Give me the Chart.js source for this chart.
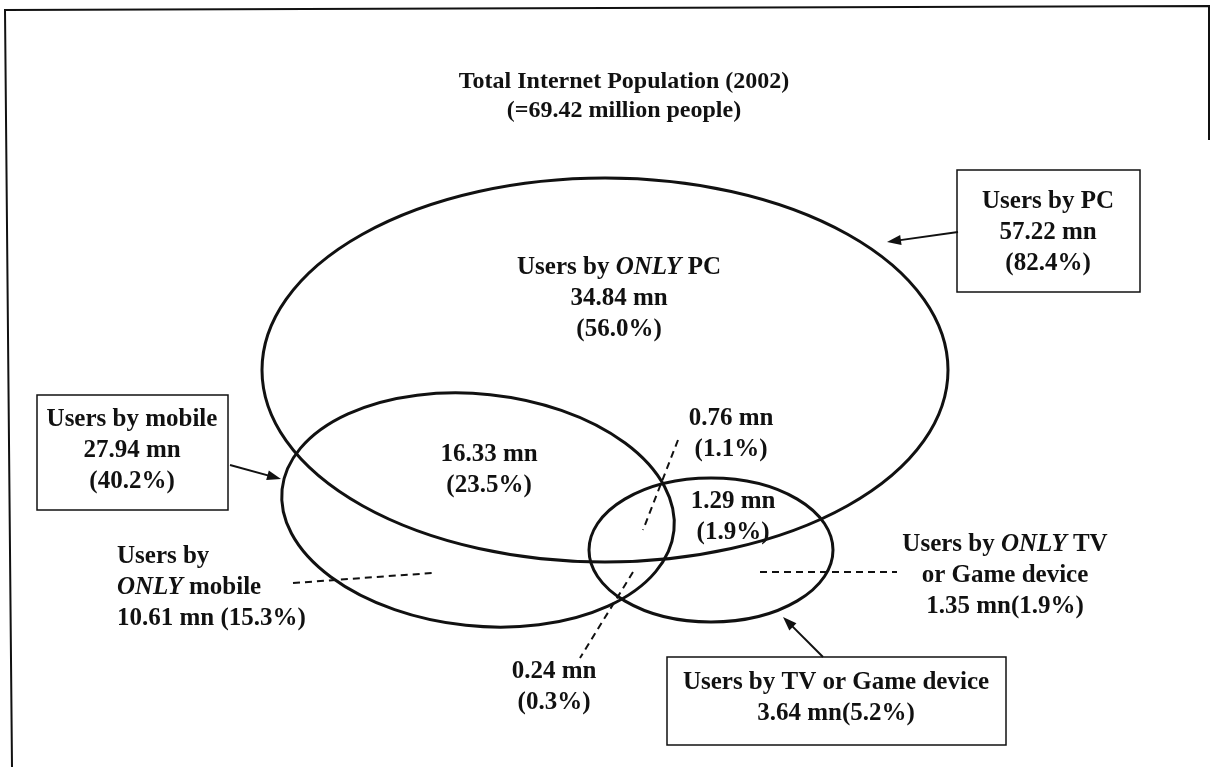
<!DOCTYPE html>
<html>
<head>
<meta charset="utf-8">
<script src="https://cdn.jsdelivr.net/npm/chart.js@4/dist/chart.umd.min.js"></script>
<style>
  html, body { margin: 0; padding: 0; background: #fff; }
  canvas { display: block; }
</style>
</head>
<body>
<canvas id="venn" width="1210" height="767"></canvas>
<script>
// --- data (million people, share of 69.42 mn total) ---
const titleLines = ['Total Internet Population (2002)', '(=69.42 million people)'];
const setNames = ['PC', 'mobile', 'TV or Game device'];
const setTotals = [57.22, 27.94, 3.64];
const setShares = [82.4, 40.2, 5.2];
const regionNames = ['ONLY PC', 'PC+mobile', 'PC+mobile+TV', 'PC+TV', 'ONLY mobile', 'mobile+TV', 'ONLY TV'];
const regionValues = [34.84, 16.33, 0.76, 1.29, 10.61, 0.24, 1.35];
const regionShares = [56.0, 23.5, 1.1, 1.9, 15.3, 0.3, 1.9];

// --- layout in chart units (x 0..1210, y 0..767 top-down) ---
const ellipseCx = [605, 478, 711];
const ellipseCy = [370, 510, 550];
const ellipseRx = [343, 197, 122];
const ellipseRy = [192, 116, 72];
const ellipseTilt = [0, 6, 0];

const mn = v => v.toFixed(2) + ' mn';
const pct = v => '(' + v.toFixed(1) + '%)';

// *word* marks italic runs
const labels = [
  { x: 1048, y: 202, align: 'center', lines: ['Users by ' + setNames[0], mn(setTotals[0]), pct(setShares[0])], box: [957, 170, 1140, 292] },
  { x: 132, y: 420, align: 'center', lines: ['Users by ' + setNames[1], mn(setTotals[1]), pct(setShares[1])], box: [37, 395, 228, 510] },
  { x: 836, y: 683, align: 'center', lines: ['Users by ' + setNames[2], mn(setTotals[2]) + pct(setShares[2])], box: [667, 657, 1006, 745] },
  { x: 619, y: 268, align: 'center', lines: ['Users by *ONLY* PC', mn(regionValues[0]), pct(regionShares[0])] },
  { x: 489, y: 455, align: 'center', lines: [mn(regionValues[1]), pct(regionShares[1])] },
  { x: 731, y: 419, align: 'center', lines: [mn(regionValues[2]), pct(regionShares[2])] },
  { x: 733, y: 502, align: 'center', lines: [mn(regionValues[3]), pct(regionShares[3])] },
  { x: 117, y: 557, align: 'left', lines: ['Users by', '*ONLY* mobile', mn(regionValues[4]) + ' ' + pct(regionShares[4])] },
  { x: 554, y: 672, align: 'center', lines: [mn(regionValues[5]), pct(regionShares[5])] },
  { x: 1005, y: 545, align: 'center', lines: ['Users by *ONLY* TV', 'or Game device', mn(regionValues[6]) + pct(regionShares[6])] }
];
const lineGap = 31;

const arrows = [[958, 232, 887, 242], [230, 465, 281, 479], [823, 657, 783, 617]];
const leaders = [[293, 583, 432, 573], [760, 572, 897, 572], [678, 440, 643, 530], [633, 572, 580, 658]];

const FONT = '"Liberation Serif", "Times New Roman", serif';
const INK = '#111';

function drawRuns(ctx, text, x, y, align, size) {
  const parts = text.split('*').map((t, i) => ({ t: t, it: i % 2 === 1 })).filter(p => p.t);
  const fontOf = p => (p.it ? 'italic bold ' : 'bold ') + size + 'px ' + FONT;
  let w = 0;
  parts.forEach(p => { ctx.font = fontOf(p); p.w = ctx.measureText(p.t).width; w += p.w; });
  let cx = align === 'center' ? x - w / 2 : x;
  ctx.textAlign = 'left';
  ctx.textBaseline = 'middle';
  parts.forEach(p => { ctx.font = fontOf(p); ctx.fillText(p.t, cx, y); cx += p.w; });
}

const vennPlugin = {
  id: 'venn',
  beforeDraw(chart) {
    const ctx = chart.ctx;
    ctx.save();
    ctx.fillStyle = '#fff';
    ctx.fillRect(0, 0, chart.width, chart.height);
    ctx.restore();
  },
  afterDraw(chart) {
    const { ctx, scales: { x, y } } = chart;
    const px = v => x.getPixelForValue(v);
    const py = v => y.getPixelForValue(v);
    ctx.save();
    ctx.strokeStyle = INK;
    ctx.fillStyle = INK;

    // outer frame (scan is cropped at the bottom)
    ctx.lineWidth = 2;
    ctx.beginPath();
    ctx.moveTo(px(12), py(767));
    ctx.lineTo(px(5), py(10));
    ctx.lineTo(px(1209), py(6));
    ctx.lineTo(px(1209), py(140));
    ctx.stroke();

    // title
    titleLines.forEach((t, i) => drawRuns(ctx, t, px(624), py(82 + i * 29), 'center', 24));

    // set ellipses
    ctx.lineWidth = 3;
    ellipseCx.forEach((c, i) => {
      const cx = px(c), cy = py(ellipseCy[i]);
      ctx.beginPath();
      ctx.ellipse(cx, cy, Math.abs(px(c + ellipseRx[i]) - cx), Math.abs(py(ellipseCy[i] + ellipseRy[i]) - cy),
        ellipseTilt[i] * Math.PI / 180, 0, Math.PI * 2);
      ctx.stroke();
    });

    // dashed leaders
    ctx.lineWidth = 2;
    ctx.setLineDash([7, 5]);
    leaders.forEach(l => {
      ctx.beginPath();
      ctx.moveTo(px(l[0]), py(l[1]));
      ctx.lineTo(px(l[2]), py(l[3]));
      ctx.stroke();
    });
    ctx.setLineDash([]);

    // arrows
    arrows.forEach(a => {
      const x0 = px(a[0]), y0 = py(a[1]), x1 = px(a[2]), y1 = py(a[3]);
      const ang = Math.atan2(y1 - y0, x1 - x0);
      ctx.lineWidth = 2;
      ctx.beginPath();
      ctx.moveTo(x0, y0);
      ctx.lineTo(x1 - 8 * Math.cos(ang), y1 - 8 * Math.sin(ang));
      ctx.stroke();
      ctx.beginPath();
      ctx.moveTo(x1, y1);
      ctx.lineTo(x1 - 14 * Math.cos(ang) + 5 * Math.sin(ang), y1 - 14 * Math.sin(ang) - 5 * Math.cos(ang));
      ctx.lineTo(x1 - 14 * Math.cos(ang) - 5 * Math.sin(ang), y1 - 14 * Math.sin(ang) + 5 * Math.cos(ang));
      ctx.closePath();
      ctx.fill();
    });

    // labels and boxes
    labels.forEach(lb => {
      if (lb.box) {
        ctx.lineWidth = 1.5;
        ctx.strokeRect(px(lb.box[0]), py(lb.box[1]), px(lb.box[2]) - px(lb.box[0]), py(lb.box[3]) - py(lb.box[1]));
      }
      lb.lines.forEach((t, i) => drawRuns(ctx, t, px(lb.x), py(lb.y + i * lineGap), lb.align, 25));
    });
    ctx.restore();
  }
};

new Chart(document.getElementById('venn'), {
  type: 'scatter',
  data: { datasets: [] },
  options: {
    responsive: false,
    animation: false,
    devicePixelRatio: 1,
    layout: { padding: 0 },
    plugins: { legend: { display: false }, tooltip: { enabled: false } },
    scales: {
      x: { type: 'linear', min: 0, max: 1210, display: false },
      y: { type: 'linear', min: 0, max: 767, reverse: true, display: false }
    }
  },
  plugins: [vennPlugin]
});
</script>
</body>
</html>
